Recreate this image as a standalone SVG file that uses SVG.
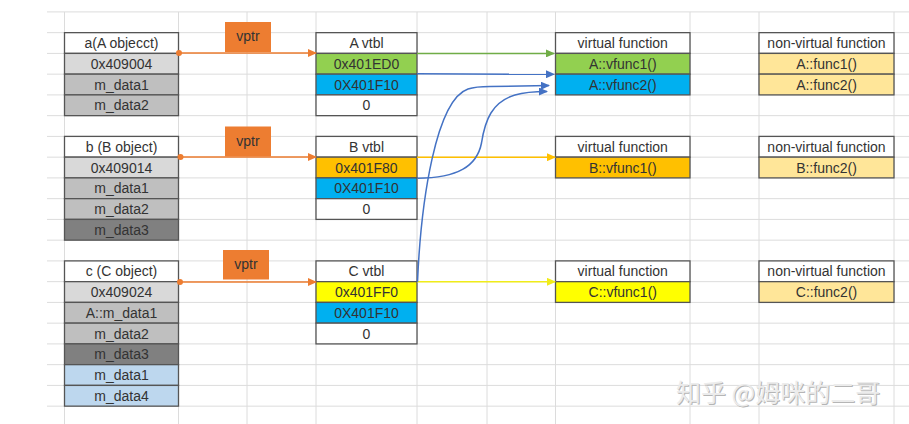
<svg xmlns="http://www.w3.org/2000/svg" width="909" height="424" viewBox="0 0 909 424">
<style>
text{font-family:"Liberation Sans",Arial,sans-serif;font-size:14px;fill:#333;text-anchor:middle}
.c{stroke:#555;stroke-width:1.3}
.w{fill:#fff}.g1{fill:#d9d9d9}.g2{fill:#bfbfbf}.g3{fill:#808080}.lb{fill:#bdd7ee}
.gr{fill:#92d050}.bl{fill:#00b0f0}.or{fill:#ffc000}.ye{fill:#ffff00}.lg{fill:#ffe699}
.grid line{stroke:#dcdcdc;stroke-width:1}
.vp{fill:#ed7d31}
.con{fill:none;stroke-width:1.5}
.wm{font-family:"Noto Sans CJK SC",sans-serif;font-size:25px;text-anchor:start}
</style>
<defs>
<marker id="ao" markerWidth="9" markerHeight="8" refX="8" refY="4" orient="auto" markerUnits="userSpaceOnUse"><path d="M0,0 L9,4 L0,8 Z" fill="#ed7d31"/></marker>
<marker id="ag" markerWidth="9" markerHeight="8" refX="8" refY="4" orient="auto" markerUnits="userSpaceOnUse"><path d="M0,0 L9,4 L0,8 Z" fill="#70ad47"/></marker>
<marker id="ab" markerWidth="9" markerHeight="8" refX="8" refY="4" orient="auto" markerUnits="userSpaceOnUse"><path d="M0,0 L9,4 L0,8 Z" fill="#4472c4"/></marker>
<marker id="ay" markerWidth="9" markerHeight="8" refX="8" refY="4" orient="auto" markerUnits="userSpaceOnUse"><path d="M0,0 L9,4 L0,8 Z" fill="#ffc000"/></marker>
<marker id="ay2" markerWidth="9" markerHeight="8" refX="8" refY="4" orient="auto" markerUnits="userSpaceOnUse"><path d="M0,0 L9,4 L0,8 Z" fill="#f0ec1a"/></marker>
</defs>
<rect width="909" height="424" fill="#fff"/>
<g class="grid">
<line x1="47" y1="11.9" x2="909" y2="11.9"/><line x1="47" y1="32.65" x2="909" y2="32.65"/><line x1="47" y1="53.4" x2="909" y2="53.4"/><line x1="47" y1="74.15" x2="909" y2="74.15"/><line x1="47" y1="94.9" x2="909" y2="94.9"/><line x1="47" y1="115.65" x2="909" y2="115.65"/><line x1="47" y1="136.4" x2="909" y2="136.4"/><line x1="47" y1="157.15" x2="909" y2="157.15"/><line x1="47" y1="177.9" x2="909" y2="177.9"/><line x1="47" y1="198.65" x2="909" y2="198.65"/><line x1="47" y1="219.4" x2="909" y2="219.4"/><line x1="47" y1="240.15" x2="909" y2="240.15"/><line x1="47" y1="260.9" x2="909" y2="260.9"/><line x1="47" y1="281.65" x2="909" y2="281.65"/><line x1="47" y1="302.4" x2="909" y2="302.4"/><line x1="47" y1="323.15" x2="909" y2="323.15"/><line x1="47" y1="343.9" x2="909" y2="343.9"/><line x1="47" y1="364.65" x2="909" y2="364.65"/><line x1="47" y1="385.4" x2="909" y2="385.4"/><line x1="47" y1="406.15" x2="909" y2="406.15"/>
<line x1="64.5" y1="11.9" x2="64.5" y2="424"/><line x1="178.5" y1="11.9" x2="178.5" y2="424"/><line x1="247" y1="11.9" x2="247" y2="424"/><line x1="316" y1="11.9" x2="316" y2="424"/><line x1="417" y1="11.9" x2="417" y2="424"/><line x1="487" y1="11.9" x2="487" y2="424"/><line x1="555.5" y1="11.9" x2="555.5" y2="424"/><line x1="690" y1="11.9" x2="690" y2="424"/><line x1="759" y1="11.9" x2="759" y2="424"/><line x1="894" y1="11.9" x2="894" y2="424"/>
</g>
<g id="obj-a">
<rect class="c w" x="64.5" y="32.65" width="114" height="20.75"/><rect class="c g1" x="64.5" y="53.4" width="114" height="20.75"/><rect class="c g2" x="64.5" y="74.15" width="114" height="20.75"/><rect class="c g2" x="64.5" y="94.9" width="114" height="20.75"/>
<text x="121.5" y="48">a(A objecct)</text><text x="121.5" y="68.7">0x409004</text><text x="121.5" y="89.5">m_data1</text><text x="121.5" y="110.2">m_data2</text>
</g>
<g id="obj-b">
<rect class="c w" x="64.5" y="136.4" width="114" height="20.75"/><rect class="c g1" x="64.5" y="157.15" width="114" height="20.75"/><rect class="c g2" x="64.5" y="177.9" width="114" height="20.75"/><rect class="c g2" x="64.5" y="198.65" width="114" height="20.75"/><rect class="c g3" x="64.5" y="219.4" width="114" height="20.75"/>
<text x="121.5" y="151.7">b (B object)</text><text x="121.5" y="172.5">0x409014</text><text x="121.5" y="193.2">m_data1</text><text x="121.5" y="214">m_data2</text><text x="121.5" y="234.7">m_data3</text>
</g>
<g id="obj-c">
<rect class="c w" x="64.5" y="260.9" width="114" height="20.75"/><rect class="c g1" x="64.5" y="281.65" width="114" height="20.75"/><rect class="c g2" x="64.5" y="302.4" width="114" height="20.75"/><rect class="c g2" x="64.5" y="323.15" width="114" height="20.75"/><rect class="c g3" x="64.5" y="343.9" width="114" height="20.75"/><rect class="c lb" x="64.5" y="364.65" width="114" height="20.75"/><rect class="c lb" x="64.5" y="385.4" width="114" height="20.75"/>
<text x="121.5" y="276.2">c (C object)</text><text x="121.5" y="297">0x409024</text><text x="121.5" y="317.7">A::m_data1</text><text x="121.5" y="338.5">m_data2</text><text x="121.5" y="359.2">m_data3</text><text x="121.5" y="380">m_data1</text><text x="121.5" y="400.7">m_data4</text>
</g>
<g id="vtbl-a">
<rect class="c w" x="316" y="32.65" width="101" height="20.75"/><rect class="c gr" x="316" y="53.4" width="101" height="20.75"/><rect class="c bl" x="316" y="74.15" width="101" height="20.75"/><rect class="c w" x="316" y="94.9" width="101" height="20.75"/>
<text x="366.5" y="48">A vtbl</text><text x="366.5" y="68.7">0x401ED0</text><text x="366.5" y="89.5">0X401F10</text><text x="366.5" y="110.2">0</text>
</g>
<g id="vtbl-b">
<rect class="c w" x="316" y="136.4" width="101" height="20.75"/><rect class="c or" x="316" y="157.15" width="101" height="20.75"/><rect class="c bl" x="316" y="177.9" width="101" height="20.75"/><rect class="c w" x="316" y="198.65" width="101" height="20.75"/>
<text x="366.5" y="151.7">B vtbl</text><text x="366.5" y="172.5">0x401F80</text><text x="366.5" y="193.2">0X401F10</text><text x="366.5" y="214">0</text>
</g>
<g id="vtbl-c">
<rect class="c w" x="316" y="260.9" width="101" height="20.75"/><rect class="c ye" x="316" y="281.65" width="101" height="20.75"/><rect class="c bl" x="316" y="302.4" width="101" height="20.75"/><rect class="c w" x="316" y="323.15" width="101" height="20.75"/>
<text x="366.5" y="276.2">C vtbl</text><text x="366.5" y="297">0x401FF0</text><text x="366.5" y="317.7">0X401F10</text><text x="366.5" y="338.5">0</text>
</g>
<g id="vf-a">
<rect class="c w" x="555.5" y="32.65" width="134.5" height="20.75"/><rect class="c gr" x="555.5" y="53.4" width="134.5" height="20.75"/><rect class="c bl" x="555.5" y="74.15" width="134.5" height="20.75"/>
<text x="622.75" y="48">virtual function</text><text x="622.75" y="68.7">A::vfunc1()</text><text x="622.75" y="89.5">A::vfunc2()</text>
</g>
<g id="vf-b">
<rect class="c w" x="555.5" y="136.4" width="134.5" height="20.75"/><rect class="c or" x="555.5" y="157.15" width="134.5" height="20.75"/>
<text x="622.75" y="151.7">virtual function</text><text x="622.75" y="172.5">B::vfunc1()</text>
</g>
<g id="vf-c">
<rect class="c w" x="555.5" y="260.9" width="134.5" height="20.75"/><rect class="c ye" x="555.5" y="281.65" width="134.5" height="20.75"/>
<text x="622.75" y="276.2">virtual function</text><text x="622.75" y="297">C::vfunc1()</text>
</g>
<g id="nvf-a">
<rect class="c w" x="759" y="32.65" width="135" height="20.75"/><rect class="c lg" x="759" y="53.4" width="135" height="20.75"/><rect class="c lg" x="759" y="74.15" width="135" height="20.75"/>
<text x="826.5" y="48">non-virtual function</text><text x="826.5" y="68.7">A::func1()</text><text x="826.5" y="89.5">A::func2()</text>
</g>
<g id="nvf-b">
<rect class="c w" x="759" y="136.4" width="135" height="20.75"/><rect class="c lg" x="759" y="157.15" width="135" height="20.75"/>
<text x="826.5" y="151.7">non-virtual function</text><text x="826.5" y="172.5">B::func2()</text>
</g>
<g id="nvf-c">
<rect class="c w" x="759" y="260.9" width="135" height="20.75"/><rect class="c lg" x="759" y="281.65" width="135" height="20.75"/>
<text x="826.5" y="276.2">non-virtual function</text><text x="826.5" y="297">C::func2()</text>
</g>
<g id="connectors">
<line class="con" stroke="#ed7d31" x1="179" y1="53" x2="316" y2="53" marker-end="url(#ao)"/>
<line class="con" stroke="#ed7d31" x1="180" y1="157" x2="316" y2="157" marker-end="url(#ao)"/>
<line class="con" stroke="#ed7d31" x1="180" y1="282" x2="316" y2="282" marker-end="url(#ao)"/>
<circle cx="179" cy="53" r="3" fill="#ed7d31"/><circle cx="180.5" cy="157" r="3" fill="#ed7d31"/><circle cx="180" cy="282" r="3" fill="#ed7d31"/>
<line class="con" stroke="#70ad47" x1="417" y1="53.4" x2="554" y2="53.4" marker-end="url(#ag)"/>
<line class="con" stroke="#4472c4" x1="417" y1="73.8" x2="554" y2="74.3" marker-end="url(#ab)"/>
<line class="con" stroke="#ffc000" x1="417" y1="157.2" x2="555" y2="157.2" marker-end="url(#ay)"/>
<line class="con" stroke="#f0ec1a" x1="417" y1="281.8" x2="555" y2="281.8" marker-end="url(#ay2)"/>
<path class="con" stroke="#4472c4" d="M417.5,282 C421,200 436,100 468,89 C474,87 480,86.5 490,86.5 L549,85.5" marker-end="url(#ab)"/>
<path class="con" stroke="#4472c4" d="M417.5,178.3 C458,178 477,166 481.5,143 C485,120 492,102 515,95 C525,92 535,91.5 547,91.5" marker-end="url(#ab)"/>
</g>
<g id="vptr-a"><rect class="vp" x="225" y="22" width="46" height="30"/><text x="248" y="41">vptr</text></g>
<g id="vptr-b"><rect class="vp" x="225" y="126.5" width="46" height="30"/><text x="248" y="145.5">vptr</text></g>
<g id="vptr-c"><rect class="vp" x="223" y="250" width="46" height="29.5"/><text x="246" y="269">vptr</text></g>
<g id="watermark">
<text class="wm" x="677" y="403" fill="#b5b5b5" style="fill:#b5b5b5">知乎 @姆咪的二哥</text>
<text class="wm" x="676" y="402" style="fill:#ececec">知乎 @姆咪的二哥</text>
</g>
</svg>
